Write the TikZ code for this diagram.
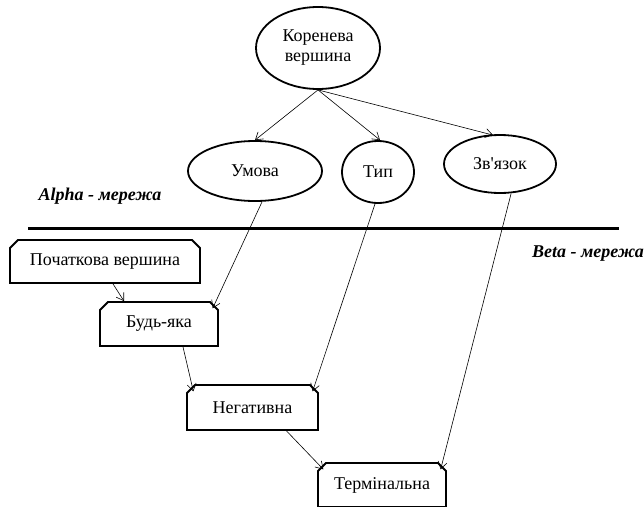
\documentclass[tikz,border=0pt]{standalone}
\usepackage{fontspec}
\setmainfont{Liberation Serif}[Ligatures=TeXOff]
\usetikzlibrary{shapes.geometric,shapes.misc,arrows.meta}
\begin{document}
\begin{tikzpicture}[x=1pt,y=-1pt,
  every node/.style={font=\fontsize{18}{20}\selectfont, inner sep=0pt},
  oval/.style={ellipse, draw, line width=1.8pt},
  vbox/.style={chamfered rectangle, chamfered rectangle corners={north west,north east},
     chamfered rectangle xsep=4pt, chamfered rectangle ysep=4pt, draw, line width=1.8pt},
  conn/.style={draw, line width=0.6pt, -{Straight Barb[length=7pt,width=9pt]}},
  netlabel/.style={font=\fontsize{18}{20}\selectfont\bfseries\itshape}]
\useasboundingbox (0,0) rectangle (644,506);
\clip (0,0) rectangle (644,506);
\node[oval, minimum width=124, minimum height=82, align=center] (root) at (318,48) {Коренева\\вершина};
\node[oval, minimum width=134, minimum height=60] (umova) at (255,171) {Умова};
\node[oval, minimum width=72, minimum height=62] (typ) at (378,172) {Тип};
\node[oval, minimum width=112, minimum height=58] (zv) at (500,164) {Зв'язок};
\node[netlabel] (alpha) at (100,196) {Alpha - мережа};
\node[netlabel] (beta) at (588,254) {Beta - мережа};
\coordinate (sepL) at (28,228);
\coordinate (sepR) at (619,228);
\draw[line width=3pt] (sepL) -- (sepR);
\node[vbox, minimum width=190, minimum height=43] (poch) at (105,261.5) {Початкова вершина};
\node[vbox, minimum width=118, minimum height=44] (bud) at (159,324) {Будь-яка};
\node[vbox, minimum width=131, minimum height=45] (neg) at (252.5,407.5) {Негативна};
\node[vbox, minimum width=128, minimum height=44] (term) at (382,485) {Термінальна};
\draw[conn] (root.south) -- (umova.north);
\draw[conn] (root.south) -- ([xshift=2pt]typ.north);
\draw[conn] (root.south) -- ([xshift=-7pt,yshift=-1pt]zv.north);
\draw[conn] ([xshift=7pt]umova.south) -- ([xshift=-2pt,yshift=-3pt]bud.north east);
\draw[conn] ([xshift=8pt]poch.south) -- ([xshift=-35pt]bud.north);
\draw[conn] ([xshift=-3pt]typ.south) -- ([xshift=-2pt,yshift=-3pt]neg.north east);
\draw[conn] ([xshift=24pt]bud.south) -- ([xshift=3pt,yshift=-3pt]neg.north west);
\draw[conn] ([xshift=11pt]zv.south) -- ([xshift=-2pt,yshift=-3pt]term.north east);
\draw[conn] ([xshift=34pt]neg.south) -- ([xshift=2pt,yshift=-3pt]term.north west);
\end{tikzpicture}
\end{document}
